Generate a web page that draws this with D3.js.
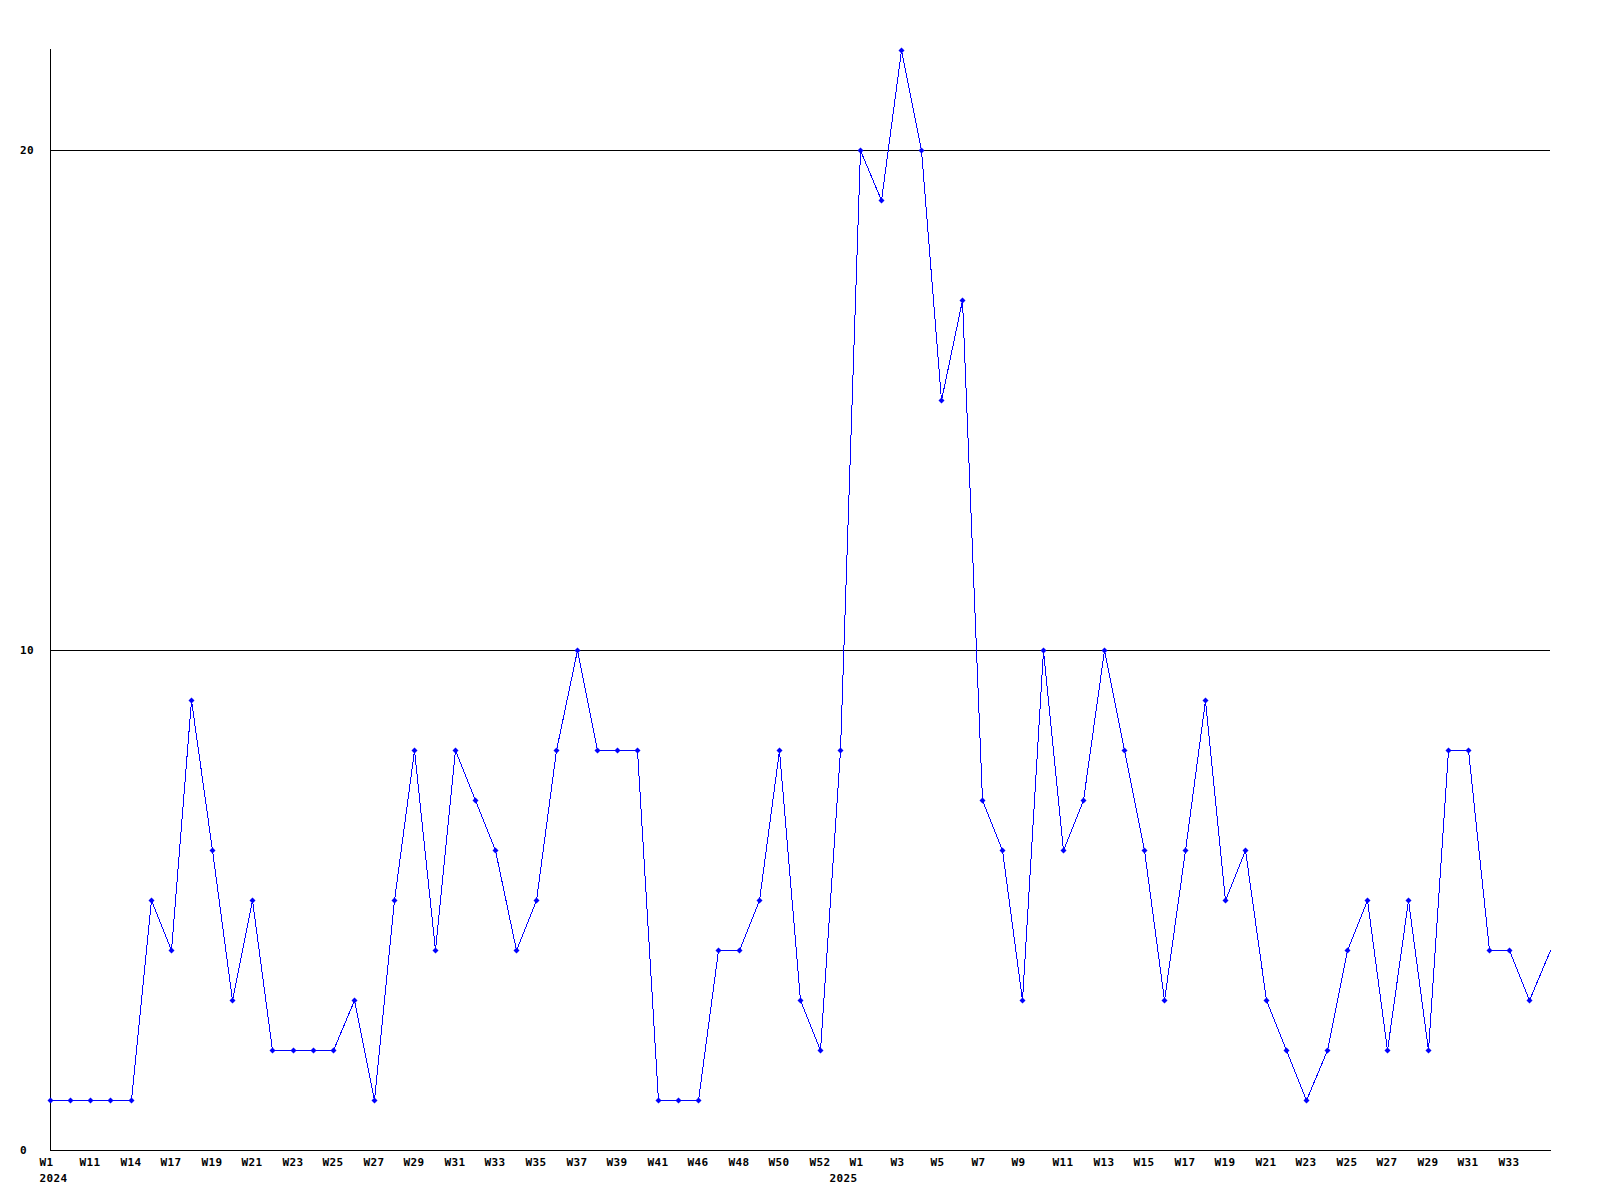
<!DOCTYPE html>
<html>
<head>
<meta charset="utf-8">
<script src="https://cdn.jsdelivr.net/npm/d3@7/dist/d3.min.js"></script>
<style>
  html, body { margin: 0; padding: 0; background: #fff; }
  svg { display: block; }
  text { font-family: "DejaVu Sans Mono", "Liberation Mono", monospace; font-weight: bold; font-size: 11px; fill: #000; letter-spacing: 0.35px; }
</style>
</head>
<body>
<svg id="chart" width="1600" height="1200"></svg>
<script>
// ---- data ----
const weeks2024 = ["W1","W10","W11","W12","W14","W15","W17","W18","W19","W20","W21","W22","W23","W24","W25","W26","W27","W28","W29","W30","W31","W32","W33","W34","W35","W36","W37","W38","W39","W40","W41","W42","W46","W47","W48","W49","W50","W51","W52"];
const values2024 = [1,1,1,1,1,5,4,9,6,3,5,2,2,2,2,3,1,5,8,4,8,7,6,4,5,8,10,8,8,8,1,1,1,4,4,5,8,3,2];
const weeks2025 = ["W0","W1","W2","W3","W4","W5","W6","W7","W8","W9","W10","W11","W12","W13","W14","W15","W16","W17","W18","W19","W20","W21","W22","W23","W24","W25","W26","W27","W28","W29","W30","W31","W32","W33","W34","W35"];
const values2025 = [8,20,19,22,20,15,17,7,6,3,10,6,7,10,8,6,3,6,9,5,6,3,2,1,2,4,5,2,5,2,8,8,4,4,3,4];
const yTicks = [0, 10, 20];
const yearLabels = [{ key: "2024-W1", text: "2024" }, { key: "2025-W0", text: "2025" }];

// ---- build ----
const categories = weeks2024.map(w => "2024-" + w).concat(weeks2025.map(w => "2025-" + w));
const values = values2024.concat(values2025);
const points = categories.map((c, i) => ({ key: c, label: c.split("-")[1], value: values[i], i }));
const tickKeys = categories.filter((c, i) => i % 2 === 0 && i < categories.length - 1);

const svg = d3.select("#chart");
const x = d3.scalePoint().domain(categories).range([50, 1550]);
const y = d3.scaleLinear().domain([0, 22]).range([1150, 50]);
const px = k => Math.floor(x(k));

// gridlines
svg.append("g").selectAll("line").data(yTicks.filter(t => t > 0)).join("line")
  .attr("x1", 50).attr("x2", 1550)
  .attr("y1", d => y(d) + 0.5).attr("y2", d => y(d) + 0.5)
  .attr("stroke", "#000").attr("stroke-width", 1).attr("shape-rendering", "crispEdges");

// axes lines
svg.append("line").attr("x1", 50.5).attr("x2", 50.5).attr("y1", 49).attr("y2", 1150)
  .attr("stroke", "#000").attr("shape-rendering", "crispEdges");
svg.append("line").attr("x1", 50).attr("x2", 1551).attr("y1", 1150.5).attr("y2", 1150.5)
  .attr("stroke", "#000").attr("shape-rendering", "crispEdges");

// y labels
svg.append("g").selectAll("text").data(yTicks).join("text")
  .attr("x", 20).attr("y", d => y(d) + 4)
  .text(d => d);

// x labels
svg.append("g").selectAll("text").data(tickKeys).join("text")
  .attr("x", d => px(d) - 10.5).attr("y", 1166)
  .text(d => d.split("-")[1]);

// year labels
svg.append("g").selectAll("text").data(yearLabels).join("text")
  .attr("x", d => px(d.key) - 10.5).attr("y", 1181.5)
  .text(d => d.text);

// line
const line = d3.line().x(d => px(d.key) + 0.5).y(d => y(d.value) + 0.5);
svg.append("path").datum(points)
  .attr("d", line).attr("fill", "none").attr("stroke", "#0000ff").attr("stroke-width", 1)
  .attr("shape-rendering", "crispEdges");

// markers (diamonds)
svg.append("g").selectAll("path").data(points.slice(0, points.length - 1)).join("path")
  .attr("d", d => {
    const cx = px(d.key) + 0.5, cy = y(d.value) + 0.5, r = 3;
    return `M${cx},${cy - r}L${cx + r},${cy}L${cx},${cy + r}L${cx - r},${cy}Z`;
  })
  .attr("fill", "#0000ff").attr("stroke", "none");
</script>
</body>
</html>
